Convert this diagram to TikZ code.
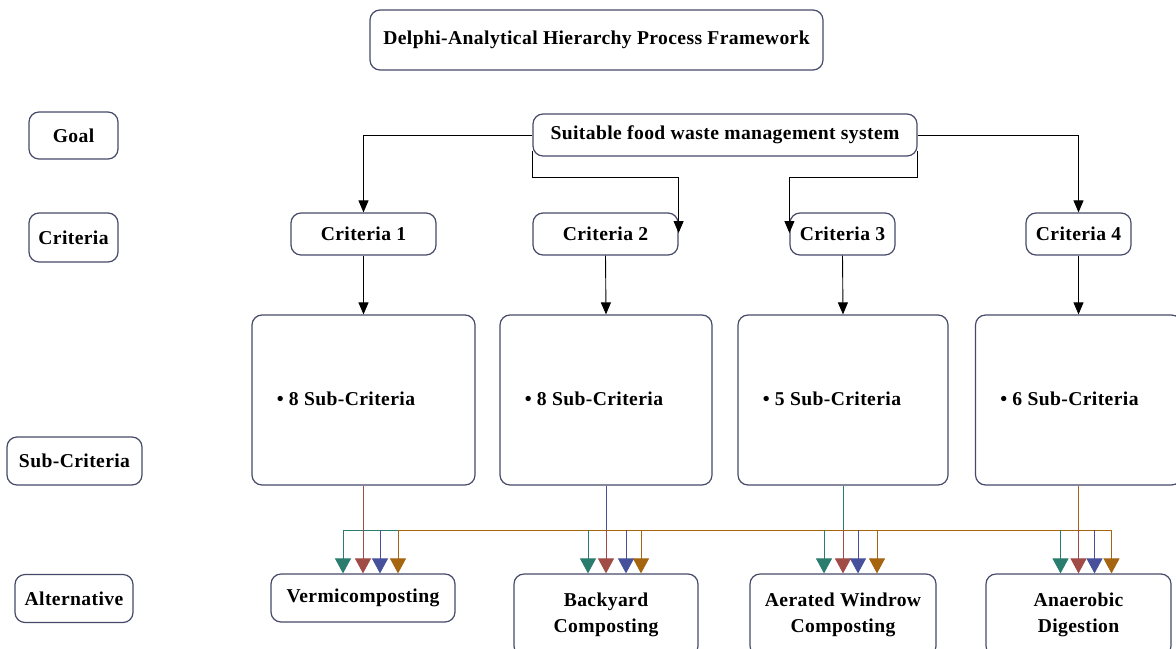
\documentclass[tikz,border=0pt]{standalone}
\usepackage{fontspec}
\setmainfont{Liberation Serif}[LetterSpace=2]
\usetikzlibrary{arrows.meta,calc}
\definecolor{bordc}{RGB}{70,74,105}
\definecolor{tealc}{RGB}{42,125,110}
\definecolor{redc}{RGB}{160,75,70}
\definecolor{bluec}{RGB}{70,80,155}
\definecolor{brownc}{RGB}{165,100,15}
\tikzset{
  box/.style={draw=bordc, line width=0.6pt, rounded corners=5pt, inner sep=0pt, align=center,
    font=\fontsize{9.8}{12.8}\selectfont\bfseries, fill=white},
  blk/.style={draw=black, line width=0.45pt, -{Triangle[width=5pt,length=6pt]}},
  carr/.style={line width=0.45pt, draw=#1, -{Triangle[width=8pt,length=7.5pt,fill=#1]}},
}
\begin{document}
\begin{tikzpicture}[x=0.5pt,y=-0.5pt]
\useasboundingbox (0,0) rectangle (1176,648);
\clip (0,0) rectangle (1176,648);
% title
\node[box, minimum width=226.5pt, minimum height=30pt] (title) at (596.5,40) {Delphi-Analytical Hierarchy Process Framework};
% left labels
\node[box, minimum width=44.5pt, minimum height=23.5pt] (lgoal) at (73.5,135.5) {Goal};
\node[box, minimum width=44.5pt, minimum height=24.5pt] (lcrit) at (73.5,237.5) {Criteria};
\node[box, minimum width=67.5pt, minimum height=24pt] (lsub) at (74.5,461) {Sub-Criteria};
\node[box, minimum width=59pt, minimum height=24pt] (lalt) at (74,598.5) {Alternative};
% goal
\node[box, minimum width=192pt, minimum height=21pt] (goal) at (725,135) {Suitable food waste management system};
% criteria
\node[box, minimum width=72.5pt, minimum height=21pt] (c1) at (363.5,234) {Criteria 1};
\node[box, minimum width=72.5pt, minimum height=21pt] (c2) at (605.5,234) {Criteria 2};
\node[box, minimum width=52.5pt, minimum height=21pt] (c3) at (842.5,234) {Criteria 3};
\node[box, minimum width=52.5pt, minimum height=21pt] (c4) at (1078.5,234) {Criteria 4};
% sub-criteria
\node[box, minimum width=111.5pt, minimum height=85pt] (s1) at (363.5,400) {};
\node[box, minimum width=106pt, minimum height=85pt] (s2) at (606,400) {};
\node[box, minimum width=105pt, minimum height=85pt] (s3) at (843,400) {};
\node[box, minimum width=103pt, minimum height=85pt] (s4) at (1078.5,400) {};
\foreach \s/\t in {s1/8,s2/8,s3/5,s4/6}{
  \node[font=\fontsize{9.8}{12}\selectfont\bfseries, anchor=west, inner sep=0pt] at ($(\s.west)+(25,-1)$) {\textbullet\ \t\ Sub-Criteria};
}
% alternatives
\node[box, minimum width=92pt, minimum height=24pt] (a1) at (363,598) {Vermicomposting};
\node[box, minimum width=92pt, minimum height=41pt] (a2) at (606,615) {Backyard\\Composting};
\node[box, minimum width=93pt, minimum height=41pt] (a3) at (843,615) {Aerated Windrow\\Composting};
\node[box, minimum width=92.5pt, minimum height=41pt] (a4) at (1078.5,615) {Anaerobic\\Digestion};
% goal -> criteria
\draw[blk] (goal.west) -| (c1.north);
\draw[blk] (goal.east) -| (c4.north);
\coordinate (gbl) at ($(goal.south west)+(0,-6)$);
\coordinate (gbr) at ($(goal.south east)+(0,-6)$);
\coordinate (k2) at ($(c2.east)+(0,-1)$);
\coordinate (k3) at ($(c3.west)+(0,-1)$);
\coordinate (lvl) at (0,177);
\draw[blk] (gbl) -- (gbl |- lvl) -| (k2);
\draw[blk] (gbr) -- (gbr |- lvl) -| (k3);
% criteria -> sub
\foreach \i in {1,2,3,4}{ \draw[blk] (c\i.south) -- (s\i.north); }
% bus
\coordinate (busL) at (343,530);
\coordinate (busM) at (398,530);
\coordinate (busR) at (1112,530);
\draw[redc, line width=0.45pt] (s1.south) -- (s1.south |- busL);
\draw[bluec, line width=0.45pt] (s2.south) -- (s2.south |- busL);
\draw[tealc, line width=0.45pt] (s3.south) -- (s3.south |- busL);
\draw[brownc, line width=0.45pt] (s4.south) -- (s4.south |- busL);
\draw[tealc, line width=0.45pt] (busL) -- (busM);
\draw[brownc, line width=0.45pt] (busM) -- (busR);
% arrows to alternatives
\foreach \a/\dt/\dr/\db/\dw in {a1/-20/0/17/35, a2/-18/0/20/35, a3/-19/0/15/34, a4/-18/0/16/33}{
  \coordinate (pt) at ($(\a.north)+(\dt,0)$);
  \coordinate (pr) at ($(\a.north)+(\dr,0)$);
  \coordinate (pb) at ($(\a.north)+(\db,0)$);
  \coordinate (pw) at ($(\a.north)+(\dw,0)$);
  \draw[carr=tealc]  (pt |- busL) -- (pt);
  \draw[carr=redc]   (pr |- busL) -- (pr);
  \draw[carr=bluec]  (pb |- busL) -- (pb);
  \draw[carr=brownc] (pw |- busL) -- (pw);
}
\end{tikzpicture}
\end{document}
